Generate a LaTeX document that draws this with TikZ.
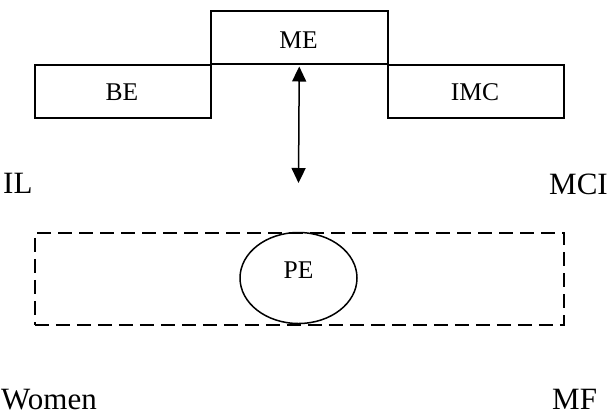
\documentclass[tikz,border=0pt]{standalone}
\usepackage{fontspec}
\setmainfont{Liberation Serif}
\usetikzlibrary{arrows.meta,shapes.geometric}
\begin{document}
\begin{tikzpicture}[x=1pt,y=-1pt,
  box/.style={draw, line width=1.5pt, minimum width=176pt, minimum height=53pt, inner sep=0pt, anchor=north west},
  inlab/.style={font=\fontsize{25.5}{30}\selectfont, inner sep=0pt, anchor=base},
  outlab/.style={font=\fontsize{31}{36}\selectfont, inner sep=0pt, anchor=base west},
  frame/.style={draw, line width=1.6pt, dash pattern=on 14pt off 7pt, minimum width=529pt, minimum height=92pt, inner sep=0pt, anchor=north west},
  oval/.style={draw, ellipse, line width=1.5pt, minimum width=117pt, minimum height=91pt, inner sep=0pt},
  dbl/.style={line width=1.5pt, {Triangle[length=15pt,width=14pt]}-{Triangle[length=15pt,width=14pt]}}
]
\useasboundingbox (0,0) rectangle (612,416);
\fill[white] (0,0) rectangle (612,416);
% boxes
\node[box, minimum width=177pt] (me) at (210,10) {};
\node[box] (be) at (34,64) {};
\node[box] (imc) at (387,64) {};
\node[inlab] (metext) at (298.5,48) {ME};
\node[inlab] (betext) at (122,100) {BE};
\node[inlab] (imctext) at (475,100) {IMC};
% dashed frame and ellipse
\node[frame] (fr) at (34,232) {};
\node[oval] (pe) at (298.5,278) {};
\node[inlab] (petext) at (298.5,278) {PE};
% arrow
\coordinate (abot) at (298.5,183);
\draw[dbl] ([yshift=-2pt]me.south) -- (abot);
% outer labels
\node[outlab] (il) at (3,193) {IL};
\node[outlab] (mci) at (549,194) {MCI};
\node[outlab] (women) at (1,409) {Women};
\node[outlab] (mf) at (552,409) {MF};
\end{tikzpicture}
\end{document}
